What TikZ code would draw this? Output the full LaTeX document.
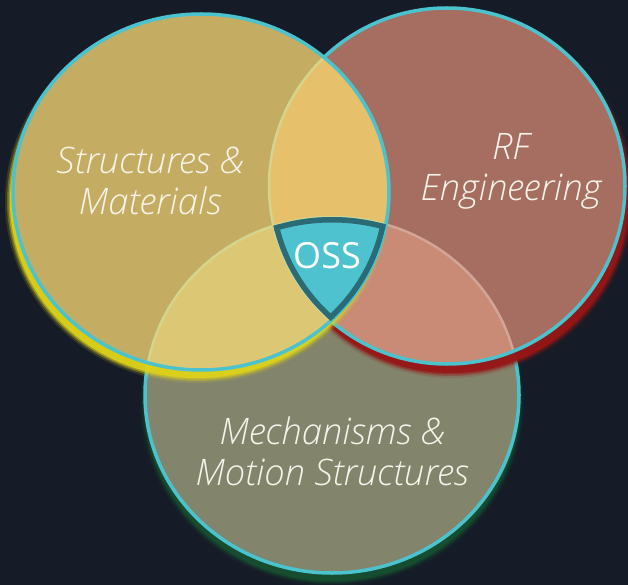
\documentclass[tikz,border=0pt]{standalone}
\usepackage{fontspec}
\setmainfont{Open Sans}
\newfontfamily\lightfont{Open Sans}[UprightFont={* Light}, ItalicFont={* Light Italic}]
\definecolor{bg}{HTML}{161C27}
\definecolor{cyanline}{HTML}{4BC3CF}
\definecolor{yel}{HTML}{C4AD62}
\definecolor{redf}{HTML}{A56E60}
\definecolor{grn}{HTML}{82846C}
\definecolor{yr}{HTML}{E6C06B}
\definecolor{yb}{HTML}{DCC874}
\definecolor{rb}{HTML}{C98B76}
\definecolor{oss}{HTML}{4EC3CF}
\definecolor{ossedge}{HTML}{2A6B75}
\definecolor{yglow}{HTML}{DDD21A}
\definecolor{rglow}{HTML}{961616}
\definecolor{gglow}{HTML}{15502F}
\definecolor{paleY}{HTML}{D4D48E}
\definecolor{paleR}{HTML}{D2A597}
\definecolor{txt}{HTML}{F6F3EA}
\def\Ypath{(201,192) ellipse [x radius=188, y radius=178]}
\def\Rpath{(447,186) ellipse [x radius=178, y radius=178]}
\def\Bpath{(332,395) ellipse [x radius=187, y radius=178]}
\begin{document}
\begin{tikzpicture}[x=1pt,y=-1pt,
  rim/.style={draw=cyanline, line width=3.5pt},
  innerrim/.style={line width=2.5pt},
  label/.style={text=txt, font=\lightfont\fontsize{36.5}{41}\selectfont\itshape, align=center, inner sep=0pt},
  osslabel/.style={text=white, font=\fontsize{36}{40}\selectfont, inner sep=0pt}]
\useasboundingbox (0,0) rectangle (628,585);
\fill[bg] (0,0) rectangle (628,585);
% bottom circle with green glow
\begin{scope}[shift={(0,8)}]
  \foreach \d/\o in {5/0.15,3/0.3,1.5/0.5,0/0.85}
    \fill[gglow, opacity=\o] (332,395) ellipse [x radius=187+\d, y radius=178+\d];
\end{scope}
\fill[grn] \Bpath;
\draw[rim] \Bpath;
% red circle with red glow
\begin{scope}[shift={(4,9)}]
  \foreach \d/\o in {5/0.15,3/0.3,1.5/0.5,0/0.9}
    \fill[rglow, opacity=\o] (447,186) ellipse [x radius=178+\d, y radius=178+\d];
\end{scope}
\fill[redf] \Rpath;
\begin{scope}
  \clip \Rpath;
  \fill[rb] \Bpath;
  \draw[paleR, innerrim] \Bpath;
\end{scope}
\draw[rim] \Rpath;
% yellow circle with yellow glow
\begin{scope}[shift={(-4,9)}]
  \foreach \d/\o in {5/0.15,3/0.3,1.5/0.5,0/0.9}
    \fill[yglow, opacity=\o] (201,192) ellipse [x radius=187+\d, y radius=177+\d];
\end{scope}
\fill[yel] \Ypath;
\begin{scope}
  \clip \Ypath;
  \fill[yb] \Bpath;
  \fill[yr] \Rpath;
  \draw[paleY, innerrim] \Bpath;
  \draw[paleY, innerrim] \Rpath;
\end{scope}
\draw[rim] \Ypath;
% OSS region
\begin{scope}
  \clip \Ypath;
  \clip \Rpath;
  \clip \Bpath;
  \fill[oss] \Bpath;
  \draw[ossedge, line width=11pt] \Bpath;
  \draw[ossedge, line width=11pt] \Rpath;
  \draw[ossedge, line width=11pt] \Ypath;
\end{scope}
% labels
\node[label] (sm) at (150,181) {Structures \&\\Materials};
\node[label] (rf) at (511,171) {RF\\Engineering};
\node[label] (mm) at (332,451) {Mechanisms \&\\Motion Structures};
\node[osslabel] (oss) at (327,256) {OSS};
\end{tikzpicture}
\end{document}
